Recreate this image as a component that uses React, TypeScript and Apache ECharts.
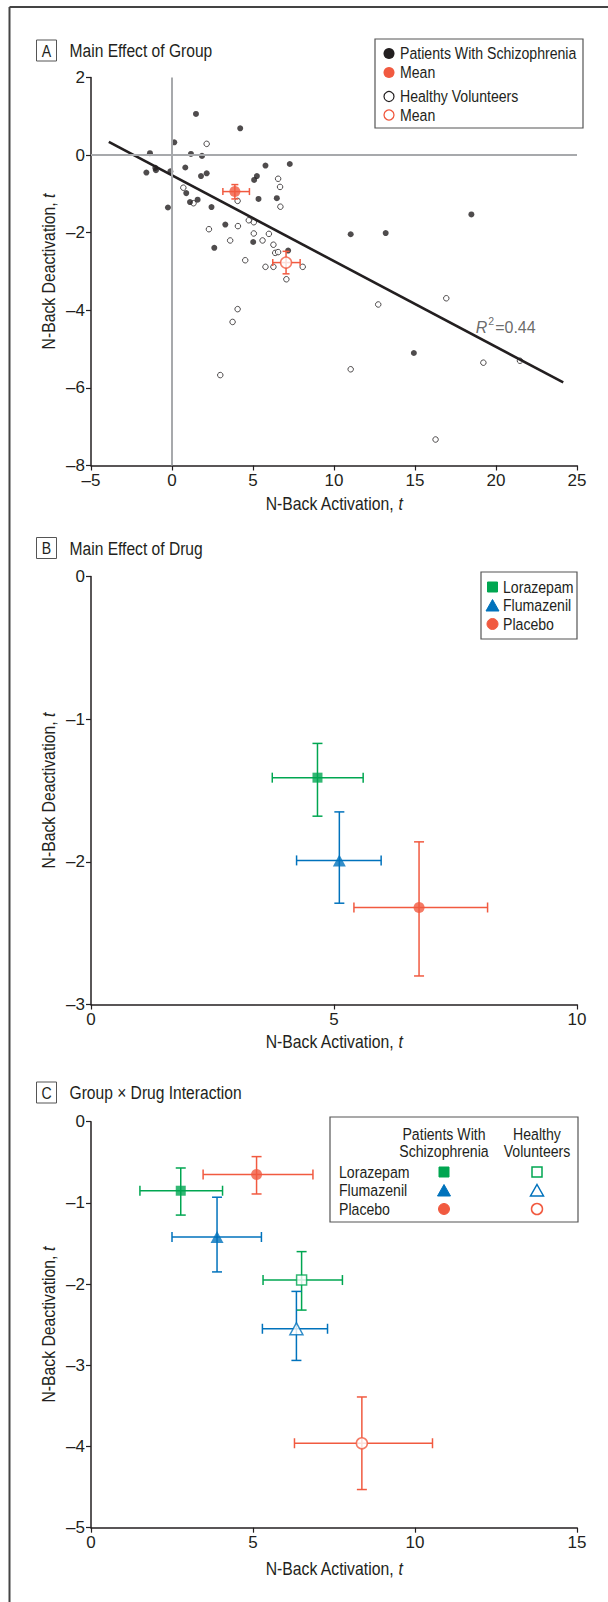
import React, { useEffect, useRef } from "react";
import * as echarts from "echarts";

const FONT = "'Liberation Sans', Arial, sans-serif";
const INK = "#231f20";
const GREY = "#a7a9ac";
const GREEN = "#00a651";
const BLUE = "#0072bc";
const RED = "#f15a40";
const CONDENSE = 0.83;

// ---------- Panel A: Main Effect of Group ----------
const patientsPoints: [number, number][] = [
  [1.48, 1.06], [4.21, 0.69], [0.14, 0.33], [-1.36, 0.05], [1.17, 0.03], [1.85, -0.02],
  [-1.58, -0.45], [-1.03, -0.33], [-0.99, -0.39], [-0.1, -0.42], [0.82, -0.32], [2.14, -0.47],
  [1.79, -0.54], [5.77, -0.27], [7.27, -0.23], [5.24, -0.54], [5.07, -0.64], [0.88, -0.98],
  [1.11, -1.21], [1.58, -1.15], [-0.25, -1.35], [2.44, -1.34], [5.34, -1.13], [6.47, -1.11],
  [3.29, -1.79], [2.61, -2.39], [5.01, -2.24], [7.17, -2.46], [11.03, -2.04], [13.19, -2.01],
  [18.48, -1.53], [14.93, -5.1],
];
const volunteersPoints: [number, number][] = [
  [2.14, 0.29], [0.7, -0.84], [1.33, -1.24], [4.05, -1.18], [6.55, -0.61], [6.67, -0.82],
  [6.69, -1.33], [2.28, -1.91], [4.07, -1.83], [4.74, -1.68], [5.05, -1.73], [5.05, -2.02],
  [3.59, -2.2], [5.59, -2.2], [5.98, -2.03], [6.26, -2.31], [4.52, -2.71], [6.37, -2.52],
  [6.55, -2.5], [5.77, -2.88], [6.26, -2.88], [8.07, -2.88], [7.06, -3.2], [4.05, -3.97],
  [3.74, -4.3], [2.98, -5.67], [11.03, -5.52], [12.73, -3.85], [16.93, -3.69], [19.22, -5.35],
  [21.48, -5.3], [16.27, -7.33],
];
const groupNames = ["Patients With Schizophrenia", "Healthy Volunteers"];
const groupMeanX = [3.88, 7.04];
const groupMeanY = [-0.94, -2.77];
const groupMeanXLow = [3.14, 6.22];
const groupMeanXHigh = [4.78, 7.91];
const groupMeanYLow = [-1.13, -3.06];
const groupMeanYHigh = [-0.76, -2.48];
const regressionLine: [number, number][] = [[-3.9, 0.34], [24.15, -5.86]];
const r2Value = "0.44";
const r2Anchor: [number, number] = [18.75, -4.4];

// ---------- Panel B: Main Effect of Drug ----------
const drugs = ["Lorazepam", "Flumazenil", "Placebo"];
const drugX = [4.66, 5.11, 6.75];
const drugY = [-1.41, -1.99, -2.32];
const drugXLow = [3.73, 4.23, 5.41];
const drugXHigh = [5.6, 5.97, 8.16];
const drugYLow = [-1.68, -2.29, -2.8];
const drugYHigh = [-1.17, -1.65, -1.86];

// ---------- Panel C: Group x Drug Interaction ----------
const patX = [2.77, 3.89, 5.11];
const patY = [-0.85, -1.42, -0.65];
const patXLow = [1.51, 2.5, 3.46];
const patXHigh = [4.06, 5.26, 6.85];
const patYLow = [-1.15, -1.85, -0.89];
const patYHigh = [-0.57, -0.93, -0.43];
const volX = [6.5, 6.34, 8.36];
const volY = [-1.95, -2.55, -3.96];
const volXLow = [5.31, 5.29, 6.28];
const volXHigh = [7.76, 7.3, 10.54];
const volYLow = [-2.32, -2.94, -4.53];
const volYHigh = [-1.6, -2.09, -3.39];

const drugColors = [GREEN, BLUE, RED];
const drugSymbols = ["rect", "triangle", "circle"];
const drugSymbolSizes: any[] = [10, [13, 12], 11];

const LEFT = 91;
const WIDTH = 486;
const GRIDS = [
  { top: 77.5, height: 388 },
  { top: 576.5, height: 428 },
  { top: 1121.7, height: 406 },
];

function errRender(cap: number, lw: number) {
  return (params: any, api: any) => {
    const x = api.value(0);
    const y = api.value(1);
    const c = api.coord([x, y]);
    const pxl = api.coord([api.value(2), y])[0];
    const pxh = api.coord([api.value(3), y])[0];
    const pyl = api.coord([x, api.value(4)])[1];
    const pyh = api.coord([x, api.value(5)])[1];
    const style = { stroke: api.visual("color"), lineWidth: lw, fill: "none" };
    const h = cap / 2;
    const ln = (x1: number, y1: number, x2: number, y2: number) => ({
      type: "line",
      shape: { x1, y1, x2, y2 },
      style,
    });
    return {
      type: "group",
      children: [
        ln(pxl, c[1], pxh, c[1]),
        ln(pxl, c[1] - h, pxl, c[1] + h),
        ln(pxh, c[1] - h, pxh, c[1] + h),
        ln(c[0], pyl, c[0], pyh),
        ln(c[0] - h, pyl, c[0] + h, pyl),
        ln(c[0] - h, pyh, c[0] + h, pyh),
      ],
    };
  };
}

const tickFmt = (v: number) => (v < 0 ? "\u2013" + Math.abs(v) : String(v));

function axisCfg(gridIndex: number, min: number, max: number, interval: number) {
  return {
    type: "value",
    gridIndex,
    min,
    max,
    interval,
    axisLine: { show: true, onZero: false, lineStyle: { color: INK, width: 1.5 } },
    axisTick: { show: true, inside: false, length: 5, lineStyle: { color: INK, width: 1.2 } },
    axisLabel: { color: INK, fontFamily: FONT, fontSize: 17, margin: 6, formatter: tickFmt },
    splitLine: { show: false },
  };
}

function txt(x: number, y: number, text: string, size = 17, align = "left", extra: any = {}, el: any = {}) {
  return {
    type: "text",
    x,
    y,
    scaleX: CONDENSE,
    ...el,
    style: {
      text,
      fill: INK,
      fontFamily: FONT,
      fontSize: size,
      textAlign: align,
      textVerticalAlign: "middle",
      ...extra,
    },
  };
}

const NAME_SIZE = 19;
const italicRich = {
  i: { fontStyle: "italic", fontFamily: FONT, fontSize: NAME_SIZE, fill: INK, color: INK },
};

function panelTitle(letter: string, title: string, y: number) {
  return [
    { type: "rect", shape: { x: 36.5, y: y - 10.5, width: 20, height: 21 }, style: { fill: "#fff", stroke: "#555", lineWidth: 1 } },
    txt(46.5, y + 0.5, letter, 17, "center"),
    txt(69.5, y, title, 18.8, "left"),
  ];
}

function marker(kind: string, cx: number, cy: number, color: string, filled: boolean) {
  const style = filled
    ? { fill: color, stroke: color, lineWidth: 1 }
    : { fill: "#fff", stroke: color, lineWidth: 1.5 };
  if (kind === "rect") return { type: "rect", shape: { x: cx - 5, y: cy - 5, width: 10, height: 10 }, style };
  if (kind === "triangle")
    return { type: "polygon", shape: { points: [[cx, cy - 6], [cx + 6.5, cy + 5.5], [cx - 6.5, cy + 5.5]] }, style };
  return { type: "circle", shape: { cx, cy, r: 5.5 }, style };
}

function buildGraphics() {
  const g: any[] = [];
  // outer frame (top + left edges)
  g.push({ type: "line", shape: { x1: 9.5, y1: 7, x2: 608, y2: 7 }, style: { stroke: "#444", lineWidth: 2 } });
  g.push({ type: "line", shape: { x1: 9.5, y1: 7, x2: 9.5, y2: 1602 }, style: { stroke: "#444", lineWidth: 2 } });

  g.push(...panelTitle("A", "Main Effect of Group", 50.5));
  g.push(...panelTitle("B", "Main Effect of Drug", 548));
  g.push(...panelTitle("C", "Group \u00d7 Drug Interaction", 1092.5));

  // axis titles
  const xNameY = [503, 1041.5, 1568];
  const axisNameCx = LEFT + WIDTH / 2;
  GRIDS.forEach((gr, i) => {
    g.push(txt(axisNameCx, xNameY[i], "N-Back Activation, {i|t}", NAME_SIZE, "center", { rich: italicRich }));
    g.push(
      txt(48, gr.top + gr.height / 2, "N-Back Deactivation, {i|t}", NAME_SIZE, "center", { rich: italicRich }, { rotation: Math.PI / 2 })
    );
  });

  // Legend A
  g.push({ type: "rect", shape: { x: 375, y: 39, width: 208, height: 89 }, style: { fill: "#fff", stroke: "#555", lineWidth: 1.2 } });
  g.push({ type: "circle", shape: { cx: 389, cy: 53.5, r: 5.5 }, style: { fill: INK } });
  g.push(txt(400, 53.5, groupNames[0], 17));
  g.push({ type: "circle", shape: { cx: 389, cy: 72.5, r: 5.5 }, style: { fill: RED } });
  g.push(txt(400, 72.5, "Mean", 17));
  g.push({ type: "circle", shape: { cx: 389, cy: 96.5, r: 5 }, style: { fill: "#fff", stroke: INK, lineWidth: 1.2 } });
  g.push(txt(400, 96.5, groupNames[1], 17));
  g.push({ type: "circle", shape: { cx: 389, cy: 115, r: 5 }, style: { fill: "#fff", stroke: RED, lineWidth: 1.3 } });
  g.push(txt(400, 115, "Mean", 17));

  // Legend B
  g.push({ type: "rect", shape: { x: 481, y: 572, width: 96, height: 67 }, style: { fill: "#fff", stroke: "#555", lineWidth: 1.2 } });
  const bY = [587, 605.5, 624];
  drugs.forEach((d, i) => {
    g.push(marker(drugSymbols[i], 492.5, bY[i], drugColors[i], true));
    g.push(txt(503, bY[i], d, 17));
  });

  // Legend C
  g.push({ type: "rect", shape: { x: 330, y: 1117, width: 248, height: 105 }, style: { fill: "#fff", stroke: "#555", lineWidth: 1.2 } });
  g.push(txt(444, 1134, "Patients With", 17, "center"));
  g.push(txt(444, 1151.5, "Schizophrenia", 17, "center"));
  g.push(txt(537, 1134, "Healthy", 17, "center"));
  g.push(txt(537, 1151.5, "Volunteers", 17, "center"));
  const cY = [1172, 1190.5, 1209];
  drugs.forEach((d, i) => {
    g.push(txt(339, cY[i], d, 17));
    g.push(marker(drugSymbols[i], 444, cY[i], drugColors[i], true));
    g.push(marker(drugSymbols[i], 537, cY[i], drugColors[i], false));
  });
  return g;
}

function errData(xs: number[], ys: number[], xl: number[], xh: number[], yl: number[], yh: number[], colors: string[]) {
  return xs.map((x, i) => ({ value: [x, ys[i], xl[i], xh[i], yl[i], yh[i]], itemStyle: { color: colors[i] } }));
}

function markerData(xs: number[], ys: number[], filled: boolean) {
  return xs.map((x, i) => ({
    value: [x, ys[i]],
    symbol: drugSymbols[i],
    symbolSize: drugSymbolSizes[i],
    itemStyle: filled
      ? { color: drugColors[i], borderColor: drugColors[i], borderWidth: 0 }
      : { color: "#fff", borderColor: drugColors[i], borderWidth: 1.5 },
  }));
}

function buildOption() {
  return {
    animation: false,
    backgroundColor: "#fff",
    textStyle: { fontFamily: FONT },
    grid: GRIDS.map((gr) => ({ left: LEFT, top: gr.top, width: WIDTH, height: gr.height })),
    xAxis: [axisCfg(0, -5, 25, 5), axisCfg(1, 0, 10, 5), axisCfg(2, 0, 15, 5)],
    yAxis: [axisCfg(0, -8, 2, 2), axisCfg(1, -3, 0, 1), axisCfg(2, -5, 0, 1)],
    graphic: buildGraphics(),
    series: [
      // zero reference lines (panel A)
      {
        type: "line",
        xAxisIndex: 0,
        yAxisIndex: 0,
        data: [],
        z: 1,
        markLine: {
          silent: true,
          symbol: "none",
          label: { show: false },
          lineStyle: { color: GREY, width: 2, type: "solid" },
          data: [{ xAxis: 0 }, { yAxis: 0 }],
        },
      },
      {
        name: groupNames[1],
        type: "scatter",
        xAxisIndex: 0,
        yAxisIndex: 0,
        symbol: "circle",
        symbolSize: 5.5,
        itemStyle: { color: "#fff", borderColor: INK, borderWidth: 1 },
        data: volunteersPoints,
        z: 2,
      },
      {
        name: groupNames[0],
        type: "scatter",
        xAxisIndex: 0,
        yAxisIndex: 0,
        symbol: "circle",
        symbolSize: 6,
        itemStyle: { color: INK },
        data: patientsPoints,
        z: 3,
      },
      {
        name: "Regression",
        type: "line",
        xAxisIndex: 0,
        yAxisIndex: 0,
        showSymbol: false,
        symbol: "none",
        lineStyle: { color: INK, width: 2.6 },
        data: regressionLine,
        z: 4,
      },
      {
        name: "R2",
        type: "scatter",
        xAxisIndex: 0,
        yAxisIndex: 0,
        symbolSize: 0,
        data: [r2Anchor],
        label: {
          show: true,
          position: [0, 0],
          align: "left",
          verticalAlign: "middle",
          formatter: "{r|R}{s|2}{n|=" + r2Value + "}",
          rich: {
            r: { fontFamily: FONT, fontSize: 16, fontStyle: "italic", color: "#444", verticalAlign: "bottom", lineHeight: 20 },
            s: { fontFamily: FONT, fontSize: 10.5, color: "#444", verticalAlign: "top", lineHeight: 20, padding: [0, 1, 0, 1] },
            n: { fontFamily: FONT, fontSize: 16, color: "#444", verticalAlign: "bottom", lineHeight: 20 },
          },
        },
        z: 4,
      },
      {
        name: "Group mean error",
        type: "custom",
        xAxisIndex: 0,
        yAxisIndex: 0,
        renderItem: errRender(7, 1.5),
        encode: { x: 0, y: 1 },
        data: errData(groupMeanX, groupMeanY, groupMeanXLow, groupMeanXHigh, groupMeanYLow, groupMeanYHigh, [RED, RED]),
        z: 5,
      },
      {
        name: "Group means",
        type: "scatter",
        xAxisIndex: 0,
        yAxisIndex: 0,
        data: [
          { value: [groupMeanX[0], groupMeanY[0]], symbolSize: 11, itemStyle: { color: RED } },
          { value: [groupMeanX[1], groupMeanY[1]], symbolSize: 11, itemStyle: { color: "#fff", borderColor: RED, borderWidth: 1.5 } },
        ],
        z: 6,
      },
      // Panel B
      {
        name: "Drug error",
        type: "custom",
        xAxisIndex: 1,
        yAxisIndex: 1,
        renderItem: errRender(10, 1.5),
        encode: { x: 0, y: 1 },
        data: errData(drugX, drugY, drugXLow, drugXHigh, drugYLow, drugYHigh, drugColors),
        z: 5,
      },
      {
        name: "Drug means",
        type: "scatter",
        xAxisIndex: 1,
        yAxisIndex: 1,
        data: markerData(drugX, drugY, true),
        z: 6,
      },
      // Panel C
      {
        name: "Patients error",
        type: "custom",
        xAxisIndex: 2,
        yAxisIndex: 2,
        renderItem: errRender(10, 1.5),
        encode: { x: 0, y: 1 },
        data: errData(patX, patY, patXLow, patXHigh, patYLow, patYHigh, drugColors),
        z: 5,
      },
      {
        name: "Volunteers error",
        type: "custom",
        xAxisIndex: 2,
        yAxisIndex: 2,
        renderItem: errRender(10, 1.5),
        encode: { x: 0, y: 1 },
        data: errData(volX, volY, volXLow, volXHigh, volYLow, volYHigh, drugColors),
        z: 5,
      },
      {
        name: "Patients means",
        type: "scatter",
        xAxisIndex: 2,
        yAxisIndex: 2,
        data: markerData(patX, patY, true),
        z: 6,
      },
      {
        name: "Volunteers means",
        type: "scatter",
        xAxisIndex: 2,
        yAxisIndex: 2,
        data: markerData(volX, volY, false),
        z: 6,
      },
    ],
  };
}

export default function App() {
  const ref = useRef<HTMLDivElement>(null);
  useEffect(() => {
    if (!ref.current) return;
    const chart = echarts.init(ref.current, null, { renderer: "svg" });
    chart.setOption(buildOption() as any);
    return () => chart.dispose();
  }, []);
  return (
    <div
      ref={ref}
      style={{ position: "absolute", left: 0, top: 0, width: 608, height: 1602, background: "#fff" }}
    />
  );
}
